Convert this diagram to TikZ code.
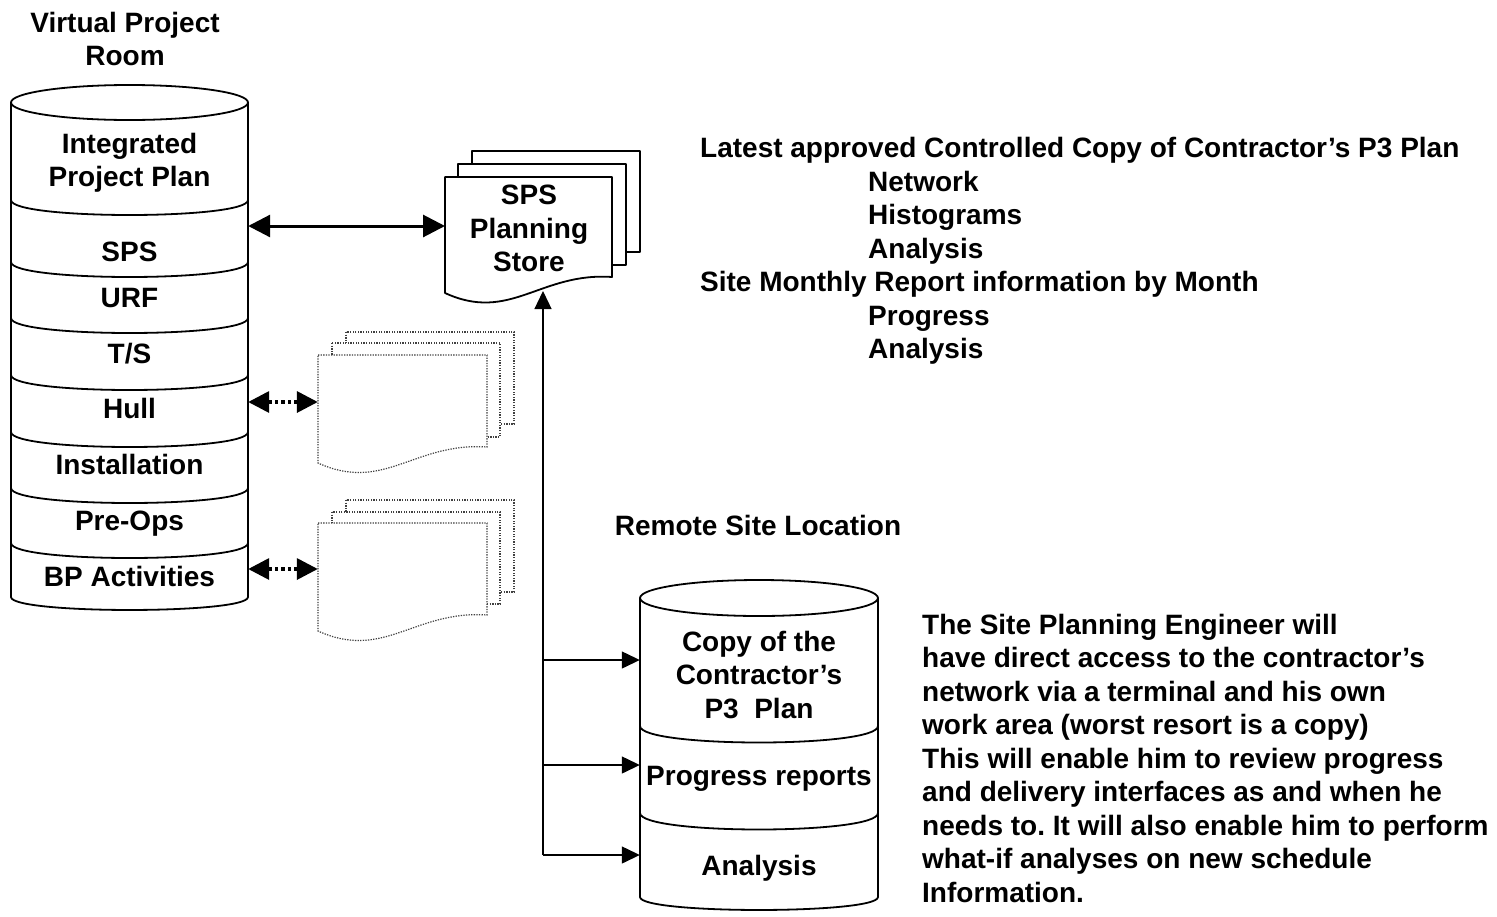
\documentclass[tikz,border=0pt]{standalone}
\usepackage{fontspec}
\setmainfont{Liberation Sans}
\usetikzlibrary{arrows.meta}
\frenchspacing
\newcommand\mydoc[6]{% style, x1, yt, x2, yr, yl
  \draw[#1] (#2,#3) -- (#4,#3) -- (#4,#5)
    .. controls ({#4-0.43*(#4-#2)},{#5-5}) and ({#2+0.39*(#4-#2)},{#6+30}) .. (#2,#6) -- cycle;}
\begin{document}
\begin{tikzpicture}[x=1pt,y=-1pt,
  every node/.style={font=\fontsize{28}{33.5}\selectfont\bfseries, inner sep=0pt},
  cylline/.style={line width=1.8pt, line join=round},
  lbl/.style={anchor=base, minimum width=237pt},
  lbltwo/.style={anchor=base, minimum width=238pt},
  bigarrow/.style={line width=3pt, {Triangle[length=22pt,width=22pt]}-{Triangle[length=22pt,width=22pt]}},
  dotarrow/.style={line width=3.5pt, dash pattern=on 3.5pt off 3pt, {Triangle[length=21pt,width=21pt]}-{Triangle[length=21pt,width=21pt]}},
  thinarrow/.style={line width=1.3pt, -{Triangle[length=18pt,width=17pt]}},
  dotdoc/.style={draw=black!75, line width=1.2pt, dash pattern=on 1.3pt off 1.3pt, fill=white},
  soliddoc/.style={draw=black, line width=1.8pt, fill=white, line join=round}
]
\fill[white] (0,0) rectangle (1497,916);
\useasboundingbox (0,0) rectangle (1497,916);

% ---------- Virtual Project Room cylinder ----------
\node[align=center] (vprtitle) at (125,39) {Virtual Project\\Room};
\draw[cylline, fill=white] (11,102.5) -- (11,597) .. controls (11,614.3) and (248,614.3) .. (248,597) -- (248,102.5);
\draw[cylline] (129.5,102.5) ellipse [x radius=118.5, y radius=17.5];
\foreach \y in {200,262,318,375,432,488,543}
  \draw[cylline] (11,\y) .. controls (11,{\y+20}) and (248,{\y+20}) .. (248,\y);
\node[align=center, minimum width=237pt] (ipp) at (129.5,163) {Integrated\\Project Plan};
\node[lbl] (sps) at (129.5,261) {SPS};
\node[lbl] (urf) at (129.5,307) {URF};
\node[lbl] (ts) at (129.5,363) {T/S};
\node[lbl] (hull) at (129.5,418) {Hull};
\node[lbl] (inst) at (129.5,474) {Installation};
\node[lbl] (preops) at (129.5,530) {Pre-Ops};
\node[lbl] (bpact) at (129.5,586) {BP Activities};

% ---------- SPS Planning Store ----------
\draw[soliddoc] (472,151) rectangle (640,252);
\draw[soliddoc] (458,164) rectangle (626,265);
\mydoc{soliddoc}{445}{177}{612}{277}{293}
\node[align=center, minimum width=167pt, minimum height=100pt] (store) at (529,228.5) {SPS\\Planning\\Store};
\coordinate (storeW) at (445,226);

% ---------- dotted documents ----------
\draw[dotdoc] (346,332) rectangle (514,424);
\draw[dotdoc] (332,343) rectangle (500,437);
\mydoc{dotdoc}{318}{355}{487}{447}{463}
\node[minimum width=169pt, minimum height=92pt] (docA) at (402.5,402) {};
\draw[dotdoc] (346,500) rectangle (514,592);
\draw[dotdoc] (332,512) rectangle (500,604);
\mydoc{dotdoc}{318}{523}{487}{615}{631}
\node[minimum width=169pt, minimum height=92pt] (docB) at (402.5,569) {};

% ---------- connectors on the left ----------
\draw[bigarrow] (sps.east |- storeW) -- (storeW);
\draw[dotarrow] (hull.east |- docA.west) -- (docA.west);
\draw[dotarrow] (bpact.east |- docB.west) -- (docB.west);

% ---------- right text ----------
\node[anchor=west, align=left] (p3text) at (700,251) {Latest approved Controlled Copy of Contractor’s P3 Plan\\
\hspace*{168pt}Network\\
\hspace*{168pt}Histograms\\
\hspace*{168pt}Analysis\\
Site Monthly Report information by Month\\
\hspace*{168pt}Progress\\
\hspace*{168pt}Analysis};

% ---------- Remote site cylinder ----------
\node[anchor=base] (remote) at (758,535) {Remote Site Location};
\draw[cylline, fill=white] (640,598) -- (640,897) .. controls (640,914.3) and (878,914.3) .. (878,897) -- (878,598);
\draw[cylline] (759,598) ellipse [x radius=119, y radius=18];
\foreach \y in {726,813}
  \draw[cylline] (640,\y) .. controls (640,{\y+22}) and (878,{\y+22}) .. (878,\y);
\node[align=center, minimum width=238pt] (copy) at (759,675) {Copy of the\\Contractor’s\\P3\ \ Plan};
\node[lbltwo] (prog) at (759,785) {Progress reports};
\node[lbltwo] (anal) at (759,875) {Analysis};

\coordinate (storeIn) at (543,291);
\coordinate (b1) at (543,660);
\coordinate (b2) at (543,765);
\coordinate (b3) at (543,855);
\draw[thinarrow] (b3) -- (storeIn);
\draw[thinarrow] (b1) -- (b1 -| copy.west);
\draw[thinarrow] (b2) -- (b2 -| prog.west);
\draw[thinarrow] (b3) -- (b3 -| anal.west);

% ---------- paragraph ----------
\node[anchor=west, align=left] (para) at (922,758) {The Site Planning Engineer will\\
have direct access to the contractor’s\\
network via a terminal and his own\\
work area (worst resort is a copy)\\
This will enable him to review progress\\
and delivery interfaces as and when he\\
needs to. It will also enable him to perform\\
what-if analyses on new schedule\\
Information.};
\end{tikzpicture}
\end{document}
